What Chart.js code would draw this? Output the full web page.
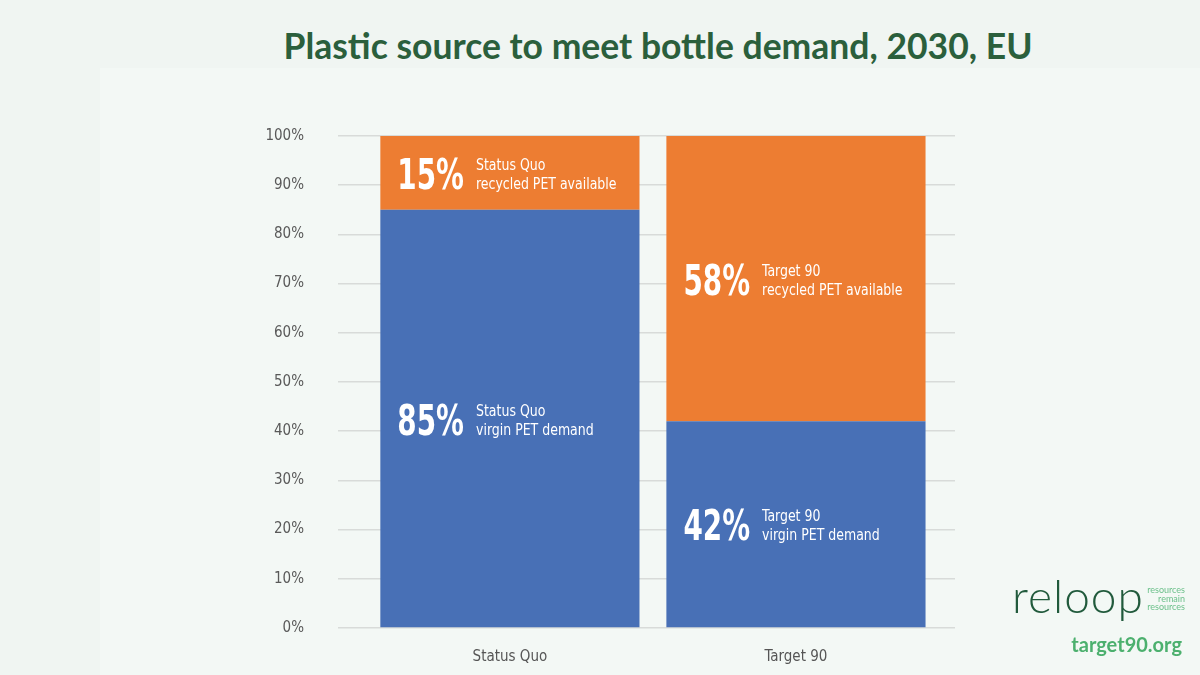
<!DOCTYPE html>
<html>
<head>
<meta charset="utf-8">
<script src="https://cdn.jsdelivr.net/npm/chart.js@4/dist/chart.umd.min.js"></script>
<style>
  html, body { margin: 0; padding: 0; }
  body { width: 1200px; height: 675px; background: #f0f5f2; position: relative; overflow: hidden; font-family: Lato, sans-serif; }
  .panel { position: absolute; left: 100px; top: 68px; right: 0; bottom: 0; background: #f3f8f5; }
  h1 { position: absolute; left: 0; top: 24px; width: 1316px; margin: 0; text-align: center; font: 700 35.5px Lato, sans-serif; color: #2b5f3c; }
  #wrap { position: absolute; left: 0; top: 0; width: 1200px; height: 675px; }
  .logo { position: absolute; left: 1012px; top: 568px; font: 300 46px Lato, sans-serif; color: #215a3c; letter-spacing: 1px; }
  .tag { position: absolute; right: 15px; top: 586px; font: 400 9px Lato, sans-serif; line-height: 8.5px; color: #6cc08b; text-align: right; }
  .site { position: absolute; right: 18px; top: 632px; font: 700 20px Lato, sans-serif; color: #4cb06e; }
</style>
</head>
<body>
<div class="panel"></div>
<h1>Plastic source to meet bottle demand, 2030, EU</h1>
<div id="wrap"><canvas id="c"></canvas></div>
<div class="logo">reloop</div>
<div class="tag">resources<br>remain<br>resources</div>
<div class="site">target90.org</div>
<script>
// chart data
const categories = ['Status Quo', 'Target 90'];
const virginShare = [85, 42];
const recycledShare = [15, 58];
const virginCaption = 'virgin PET demand';
const recycledCaption = 'recycled PET available';
const yTicks = [0, 10, 20, 30, 40, 50, 60, 70, 80, 90, 100];

const BLUE = '#4870b6';
const ORANGE = '#ed7d32';
const NARROW = '"Liberation Sans Narrow", "DejaVu Sans Condensed", sans-serif';

function toPoints(values) {
  return values.map((v, i) => ({ x: i, y: v }));
}

// draws "85%" + two-line caption inside each bar segment
const segmentLabels = {
  id: 'segmentLabels',
  afterDatasetsDraw(chart) {
    const ctx = chart.ctx;
    chart.data.datasets.forEach((ds, di) => {
      const meta = chart.getDatasetMeta(di);
      meta.data.forEach((bar, i) => {
        const p = bar.getProps(['x', 'y', 'base', 'width'], true);
        const cy = (p.y + p.base) / 2;
        const left = p.x - p.width / 2 + 17;
        const big = ds.data[i].y + '%';
        ctx.save();
        ctx.fillStyle = '#ffffff';
        ctx.textAlign = 'left';
        ctx.textBaseline = 'alphabetic';
        ctx.font = 'bold 43px ' + NARROW;
        ctx.save();
        ctx.translate(left, cy + 16);
        ctx.scale(0.72, 1);
        ctx.fillText(big, 0, 0);
        ctx.restore();
        const w = ctx.measureText(big).width * 0.72;
        ctx.font = '16px ' + NARROW;
        ctx.save();
        ctx.translate(left + w + 12, 0);
        ctx.scale(0.87, 1);
        ctx.fillText(categories[i], 0, cy - 3);
        ctx.fillText(ds.caption, 0, cy + 16);
        ctx.restore();
        ctx.restore();
      });
    });
  }
};

new Chart(document.getElementById('c'), {
  type: 'bar',
  data: {
    datasets: [
      { label: 'virgin', caption: virginCaption, data: toPoints(virginShare), backgroundColor: BLUE },
      { label: 'recycled', caption: recycledCaption, data: toPoints(recycledShare), backgroundColor: ORANGE }
    ]
  },
  options: {
    responsive: true,
    maintainAspectRatio: false,
    animation: false,
    layout: { padding: { left: 250, right: 245, top: 136, bottom: 0 } },
    datasets: { bar: { barPercentage: 0.906, categoryPercentage: 1 } },
    plugins: { legend: { display: false }, tooltip: { enabled: false } },
    scales: {
      x: {
        type: 'linear',
        stacked: true,
        offset: false,
        min: -0.601,
        max: 1.556,
        grid: { display: false },
        border: { display: false },
        afterFit: (s) => { s.height = 47; },
        afterBuildTicks: (s) => { s.ticks = categories.map((_, i) => ({ value: i })); },
        ticks: {
          autoSkip: false,
          maxRotation: 0,
          padding: 12,
          color: '#555555',
          font: { family: NARROW, size: 15 },
          callback: (v) => categories[v] ?? ''
        }
      },
      y: {
        stacked: true,
        min: 0,
        max: 100,
        afterFit: (s) => { s.width = 88; },
        afterBuildTicks: (s) => { s.ticks = yTicks.map(v => ({ value: v })); },
        grid: { color: '#d8dbd9', lineWidth: 1.5, drawTicks: false },
        border: { display: false },
        ticks: {
          padding: 34,
          color: '#595959',
          font: { family: NARROW, size: 15 },
          callback: (v) => v + '%'
        }
      }
    }
  },
  plugins: [segmentLabels]
});
</script>
</body>
</html>
